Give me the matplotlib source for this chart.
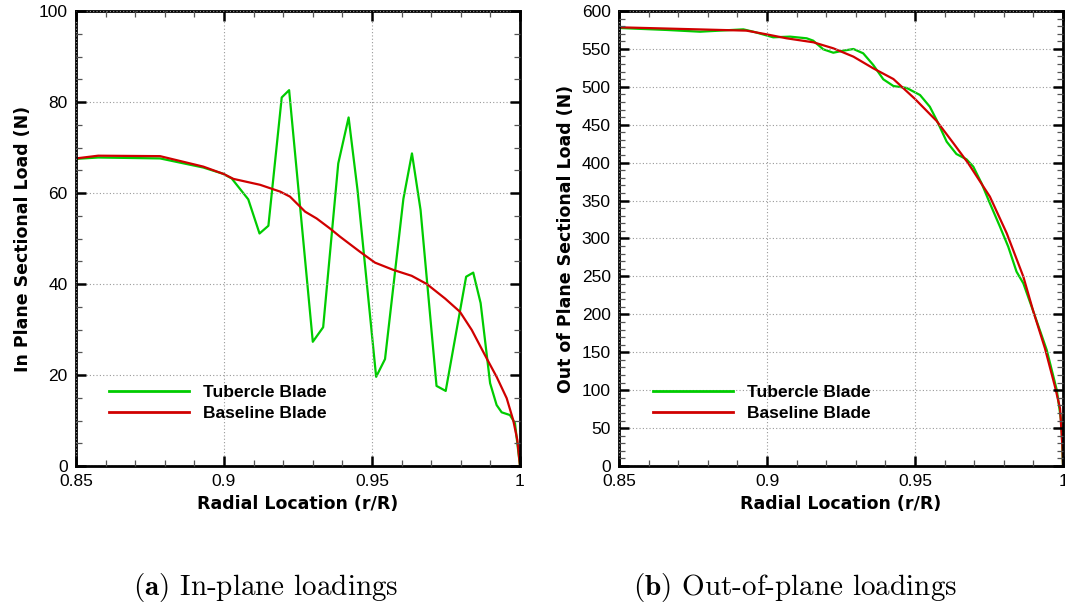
import matplotlib
matplotlib.use("Agg")
import matplotlib.pyplot as plt
from matplotlib.ticker import MultipleLocator, FuncFormatter

# Radial positions (r/R) and sectional loads (N)
r_inplane_tubercle = [0.850, 0.8575, 0.8784, 0.893, 0.8998, 0.9026, 0.9082, 0.912, 0.915,
                      0.9195, 0.922, 0.930, 0.9335, 0.9386, 0.9421, 0.9451, 0.9514, 0.9544,
                      0.9606, 0.9635, 0.9664, 0.9718, 0.9749, 0.9818, 0.9842, 0.9867, 0.9899,
                      0.9921, 0.9938, 0.9966, 0.9983, 1.000]
load_inplane_tubercle = [67.5, 67.8, 67.6, 65.6, 64.2, 63.2, 58.6, 51.1, 52.8,
                         81.0, 82.6, 27.3, 30.5, 66.5, 76.6, 60.7, 19.6, 23.5,
                         58.7, 68.7, 56.3, 17.6, 16.5, 41.6, 42.5, 35.8, 18.2,
                         13.4, 11.8, 11.2, 9.4, 0.0]

r_inplane_baseline = [0.850, 0.8575, 0.8784, 0.893, 0.8998, 0.9032, 0.9122, 0.919, 0.9223,
                      0.9274, 0.9313, 0.9358, 0.9392, 0.9459, 0.951, 0.9572, 0.9634, 0.9685,
                      0.9747, 0.9797, 0.9837, 0.9887, 0.9921, 0.9955, 0.9977, 0.9991, 1.000]
load_inplane_baseline = [67.6, 68.2, 68.1, 65.8, 64.2, 63.1, 61.8, 60.3, 59.2,
                         55.9, 54.4, 52.2, 50.4, 47.1, 44.7, 43.1, 41.8, 40.0,
                         36.8, 33.9, 29.9, 23.7, 19.6, 14.9, 10.1, 5.7, 0.0]

r_outplane_tubercle = [0.850, 0.8661, 0.8774, 0.892, 0.8954, 0.9021, 0.9078, 0.9134, 0.9156,
                       0.919, 0.9224, 0.9258, 0.9292, 0.9325, 0.9359, 0.9393, 0.9427, 0.9472,
                       0.9517, 0.955, 0.9573, 0.9607, 0.964, 0.9674, 0.9697, 0.9725, 0.9753,
                       0.9787, 0.9815, 0.9843, 0.9866, 0.990, 0.9945, 0.9979, 0.9995, 1.000]
load_outplane_tubercle = [577.6, 575.0, 572.7, 575.8, 572.7, 565.3, 566.2, 564.0, 560.9,
                          549.5, 545.0, 547.7, 549.9, 544.2, 528.8, 509.9, 501.1, 498.5,
                          489.2, 473.8, 456.3, 427.7, 411.4, 404.4, 394.7, 372.7, 346.4,
                          315.6, 289.2, 256.3, 240.9, 203.5, 153.0, 100.2, 56.0, 0.0]

r_outplane_baseline = [0.850, 0.8931, 0.8999, 0.9066, 0.9157, 0.9224, 0.9292, 0.9359, 0.9427,
                       0.950, 0.9573, 0.963, 0.968, 0.9753, 0.981, 0.9866, 0.990, 0.9939,
                       0.9973, 0.999, 0.9998, 1.000]
load_outplane_baseline = [578.5, 574.1, 569.2, 564.0, 558.7, 550.8, 539.8, 524.4, 510.3,
                          484.0, 455.0, 425.5, 399.1, 355.2, 306.8, 249.7, 203.5, 155.2,
                          104.6, 76.0, 25.5, 0.0]

series_labels = ["Tubercle Blade", "Baseline Blade"]
x_label = "Radial Location (r/R)"
y_labels = ["In Plane Sectional Load (N)", "Out of Plane Sectional Load (N)"]
captions = [r"$\mathbf{(a)}$ In-plane loadings", r"$\mathbf{(b)}$ Out-of-plane loadings"]

GREEN = "#00cc00"
RED = "#d00000"
LABEL_FONT = {"family": "DejaVu Sans", "size": 12.5, "weight": "bold"}

plt.rcParams["font.family"] = ["Liberation Sans", "DejaVu Sans"]
plt.rcParams["mathtext.fontset"] = "cm"

fig = plt.figure(figsize=(10.65, 6.11), dpi=100)
W, H = 1065, 611


def style_axes(ax, ymax, ymajor, yminor):
    ax.set_xlim(0.85, 1.0)
    ax.set_ylim(0, ymax)
    ax.xaxis.set_major_locator(MultipleLocator(0.05))
    ax.xaxis.set_minor_locator(MultipleLocator(0.01))
    ax.yaxis.set_major_locator(MultipleLocator(ymajor))
    ax.yaxis.set_minor_locator(MultipleLocator(yminor))
    ax.xaxis.set_major_formatter(FuncFormatter(lambda v, p: f"{v:g}"))
    ax.yaxis.set_major_formatter(FuncFormatter(lambda v, p: f"{v:g}"))
    ax.tick_params(which="both", direction="in", top=True, right=True, labelsize=12.5,
                   colors="black")
    ax.tick_params(which="major", length=7.5, width=1.8, pad=6)
    ax.tick_params(which="minor", length=4, width=0.9, color="#555555")
    for s in ax.spines.values():
        s.set_linewidth(2.0)
    ax.grid(True, which="major", linestyle=(0, (1, 2)), color="#999999", linewidth=0.8)
    ax.set_axisbelow(False)
    ax.set_xlabel(x_label, fontdict=LABEL_FONT, labelpad=4)


ax1 = fig.add_axes([76 / W, (611 - 466) / H, 444 / W, 455 / H])
ax1.plot(r_inplane_tubercle, load_inplane_tubercle, color=GREEN, lw=1.6, label=series_labels[0])
ax1.plot(r_inplane_baseline, load_inplane_baseline, color=RED, lw=1.6, label=series_labels[1])
style_axes(ax1, 100, 20, 5)
ax1.set_ylabel(y_labels[0], fontdict=LABEL_FONT, labelpad=5)

ax2 = fig.add_axes([619 / W, (611 - 466) / H, 444 / W, 455 / H])
ax2.plot(r_outplane_tubercle, load_outplane_tubercle, color=GREEN, lw=1.6, label=series_labels[0])
ax2.plot(r_outplane_baseline, load_outplane_baseline, color=RED, lw=1.6, label=series_labels[1])
style_axes(ax2, 600, 50, 10)
ax2.set_ylabel(y_labels[1], fontdict=LABEL_FONT, labelpad=5)

for ax, xa in ((ax1, 0.074), (ax2, 0.077)):
    leg = ax.legend(loc="center left", bbox_to_anchor=(xa, 0.138), frameon=False,
                    prop={"size": 12.5, "weight": "bold"}, handlelength=4.6,
                    handletextpad=0.8, labelspacing=0.32, borderpad=0, borderaxespad=0)
    for line in leg.get_lines():
        line.set_linewidth(2.0)

for cx, text in zip((266 / W, 795 / W), captions):
    fig.text(cx, 1 - 588 / H, text, ha="center", va="center", fontsize=21, family="cmr10")

fig.savefig("out.png", dpi=100)
